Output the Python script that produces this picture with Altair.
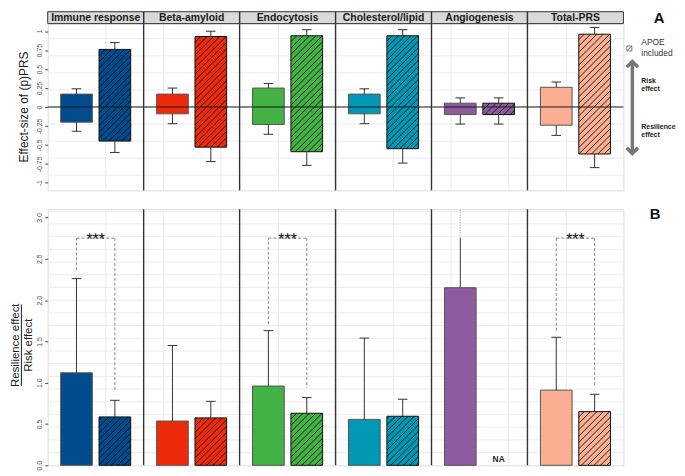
import math
import altair as alt
import pandas as pd

# ---------------- data ----------------
categories = ["Immune response", "Beta-amyloid", "Endocytosis",
              "Cholesterol/lipid", "Angiogenesis", "Total-PRS"]
colors = ["#024B8C", "#EE2A0C", "#43B244", "#0098B4", "#8E5B9E", "#FBAE91"]

# Panel A: effect sizes (floating bars: low..high) with error bars
prs_high = [0.17, 0.17, 0.25, 0.17, 0.05, 0.26]
prs_low = [-0.20, -0.09, -0.23, -0.09, -0.10, -0.24]
prs_err_high = [0.24, 0.25, 0.31, 0.24, 0.12, 0.33]
prs_err_low = [-0.32, -0.22, -0.36, -0.22, -0.225, -0.375]
apoe_high = [0.76, 0.93, 0.94, 0.94, 0.05, 0.96]
apoe_low = [-0.45, -0.53, -0.59, -0.55, -0.10, -0.62]
apoe_err_high = [0.85, 1.00, 1.02, 1.02, 0.12, 1.05]
apoe_err_low = [-0.60, -0.72, -0.77, -0.74, -0.225, -0.80]

# Panel B: resilience / risk ratio
ratio = [1.12, 0.536, 0.96, 0.556, 2.15, 0.91]
ratio_err = [2.26, 1.45, 1.63, 1.54, 2.75, 1.55]
ratio_err_capped = [True, True, True, True, False, True]
ratio_err_beyond = [None, None, None, None, 3.1, None]
apoe_ratio = [0.586, 0.574, 0.63, 0.594, None, 0.65]
apoe_ratio_err = [0.787, 0.775, 0.82, 0.80, None, 0.86]
sig_labels = ["***", None, "***", None, None, "***"]
bracket_top = 2.75
bracket_left_from = [2.36, None, 1.71, None, None, 1.63]
bracket_right_to = [0.90, None, 0.94, None, None, 0.96]

top_ticks = [1, 0.75, 0.5, 0.25, 0, -0.25, -0.5, -0.75, -1]
bottom_ticks = [0, 0.5, 1.0, 1.5, 2.0, 2.5, 3.0]

# ---------------- layout constants ----------------
W = 580
H_TOP = 168
H_BOT = 258
DOM_TOP = [-1.1, 1.1]
DOM_BOT = [0, 3.1]
SX = W / 6
SY_TOP = H_TOP / (DOM_TOP[1] - DOM_TOP[0])
SY_BOT = H_BOT / (DOM_BOT[1] - DOM_BOT[0])
BAR_W = 0.33
OFF_S = 0.30
OFF_A = 0.70
CAP = 0.05
FONT = "Liberation Sans"

XS = alt.Scale(domain=[0, 6], nice=False, zero=False)
YT = alt.Scale(domain=DOM_TOP, nice=False, zero=False)
YB = alt.Scale(domain=DOM_BOT, nice=False, zero=False)
cscale = alt.Scale(domain=categories, range=colors)

x_axis = alt.Axis(values=[round(0.6 * k, 2) for k in range(1, 10)], labels=False,
                  ticks=False, domain=False, grid=True, gridColor="#ebebeb",
                  gridWidth=1, title=None)
top_axis = alt.Axis(values=top_ticks, labelExpr="'' + datum.value", labelAngle=270,
                    labelAlign="center", labelBaseline="bottom", labelFontSize=7,
                    labelColor="#4d4d4d", tickColor="#4d4d4d", tickSize=3,
                    labelPadding=2, grid=False, domain=False, title=None)
bot_axis = alt.Axis(values=bottom_ticks, format=".1f", labelAngle=270,
                    labelAlign="center", labelBaseline="bottom", labelFontSize=7,
                    labelColor="#4d4d4d", tickColor="#4d4d4d", tickSize=3,
                    labelPadding=2, grid=False, domain=False, title=None)


def X(f):
    return alt.X(f"{f}:Q", scale=XS, axis=x_axis)


def hatch_segments(x0, x1, y0, y1, sy, step=6.4):
    X0, X1, Y0, Y1 = x0 * SX, x1 * SX, y0 * sy, y1 * sy
    segs = []
    c = math.floor((Y0 - X1) / step) * step
    while c <= Y1 - X0:
        xa = max(X0, Y0 - c)
        xb = min(X1, Y1 - c)
        if xb - xa > 0.4:
            segs.append(dict(x=xa / SX, y=(xa + c) / sy, x2=xb / SX, y2=(xb + c) / sy))
        c += step
    return segs


# ---------------- build tables ----------------
def bar_rows(lows, highs, errl, errh, sy, with_low_err):
    bars, hatch, err, caps = [], [], [], []
    for i, cat in enumerate(categories):
        for kind, off in (("solid", OFF_S), ("apoe", OFF_A)):
            lo, hi = lows[kind][i], highs[kind][i]
            if hi is None:
                continue
            cx = i + off
            x0, x1 = cx - BAR_W / 2, cx + BAR_W / 2
            bars.append(dict(cat=cat, kind=kind, x=x0, x2=x1, y=lo, y2=hi))
            if kind == "apoe":
                hatch += hatch_segments(x0, x1, lo, hi, sy)
            eh = errh[kind][i]
            if eh is not None:
                err.append(dict(x=cx, y=hi, y2=eh))
                if errh.get(kind + "_cap", [True] * 6)[i]:
                    caps.append(dict(x=cx - CAP, x2=cx + CAP, y=eh))
            if with_low_err:
                el = errl[kind][i]
                err.append(dict(x=cx, y=lo, y2=el))
                caps.append(dict(x=cx - CAP, x2=cx + CAP, y=el))
    return (pd.DataFrame(bars), pd.DataFrame(hatch), pd.DataFrame(err),
            pd.DataFrame(caps))


topb, toph, tope, topc = bar_rows(
    {"solid": prs_low, "apoe": apoe_low}, {"solid": prs_high, "apoe": apoe_high},
    {"solid": prs_err_low, "apoe": apoe_err_low},
    {"solid": prs_err_high, "apoe": apoe_err_high}, SY_TOP, True)

botb, both, bote, botc = bar_rows(
    {"solid": [0] * 6, "apoe": [0] * 6}, {"solid": ratio, "apoe": apoe_ratio},
    None,
    {"solid": ratio_err, "apoe": apoe_ratio_err, "solid_cap": ratio_err_capped},
    SY_BOT, False)

dotted = pd.DataFrame([dict(x=i + OFF_S, y=ratio_err[i], y2=b)
                       for i, b in enumerate(ratio_err_beyond) if b is not None])

brackets, stars = [], []
for i, s in enumerate(sig_labels):
    if s is None:
        continue
    cs, ca = i + OFF_S, i + OFF_A
    brackets.append(dict(x=cs, x2=cs, y=bracket_left_from[i], y2=bracket_top))
    brackets.append(dict(x=cs, x2=ca, y=bracket_top, y2=bracket_top))
    brackets.append(dict(x=ca, x2=ca, y=bracket_top, y2=bracket_right_to[i]))
    stars.append(dict(x=i + 0.5, y=bracket_top, t=s))
brackets = pd.DataFrame(brackets)
stars = pd.DataFrame(stars)
na_df = pd.DataFrame([dict(x=i + OFF_A, y=0, t="NA")
                      for i, v in enumerate(apoe_ratio) if v is None])

strips = pd.DataFrame(dict(cat=categories, x=list(range(6)),
                           x2=list(range(1, 7)), xc=[i + 0.5 for i in range(6)]))
seps = pd.DataFrame(dict(x=list(range(1, 6))))
grid_top = pd.DataFrame(dict(y=[0.225 * k for k in range(-4, 5)]))
grid_bot = pd.DataFrame(dict(y=[0.1538 * k for k in range(1, 21)]))


def one(t):
    return pd.DataFrame({"t": [t]})


# ---------------- layers ----------------
def panel_layers(bars, hatch, err, caps, yscale, yaxis, grid):
    def Y(f):
        return alt.Y(f"{f}:Q", scale=yscale, axis=yaxis)
    L = []
    L.append(alt.Chart(grid).mark_rule(color="#ececec", strokeWidth=1).encode(
        y=Y("y"), x=alt.value(0), x2=alt.value("width")))
    L.append(alt.Chart(bars).mark_rect(strokeWidth=0).encode(
        x=X("x"), x2="x2:Q", y=Y("y"), y2="y2:Q",
        fill=alt.Fill("cat:N", scale=cscale, legend=None)))
    L.append(alt.Chart(hatch).mark_rule(color="#111111", strokeWidth=0.9).encode(
        x=X("x"), x2="x2:Q", y=Y("y"), y2="y2:Q"))
    L.append(alt.Chart(bars).mark_rect(fillOpacity=0, strokeWidth=1).encode(
        x=X("x"), x2="x2:Q", y=Y("y"), y2="y2:Q",
        stroke=alt.Stroke("kind:N", scale=alt.Scale(domain=["solid", "apoe"],
                                                    range=["#555555", "#111111"]),
                          legend=None)))
    L.append(alt.Chart(err).mark_rule(color="#333333", strokeWidth=1).encode(
        x=X("x"), y=Y("y"), y2="y2:Q"))
    L.append(alt.Chart(caps).mark_rule(color="#333333", strokeWidth=1).encode(
        x=X("x"), x2="x2:Q", y=Y("y")))
    return L, Y


spacer = alt.Chart(one("")).mark_rule(color="white", strokeWidth=1).encode(
    x=alt.value(-39), y=alt.value(60), y2=alt.value(61))

# ---- top panel (A)
tl, YTf = panel_layers(topb, toph, tope, topc, YT, top_axis, grid_top)
tl.append(alt.Chart(pd.DataFrame({"y": [0]})).mark_rule(color="#1a1a1a", strokeWidth=1).encode(
    y=YTf("y"), x=alt.value(0), x2=alt.value("width")))
tl.append(alt.Chart(strips).mark_rect(fill="#d9d9d9", stroke="#333333", strokeWidth=1).encode(
    x=X("x"), x2="x2:Q", y=alt.value(-12), y2=alt.value(0)))
tl.append(alt.Chart(strips).mark_text(font=FONT, fontSize=10.5, fontWeight="bold",
                                      color="#1a1a1a", baseline="middle").encode(
    x=X("xc"), y=alt.value(-5.5), text="cat:N"))
tl.append(alt.Chart(seps).mark_rule(color="#333333", strokeWidth=1.4).encode(
    x=X("x"), y=alt.value(-12), y2=alt.value("height")))
tl.append(alt.Chart(one("Effect-size of (p)PRS")).mark_text(
    font=FONT, fontSize=12, angle=270, color="#1a1a1a", baseline="alphabetic").encode(
    text="t:N", x=alt.value(-20), y=alt.value(H_TOP / 2)))
tl.append(alt.Chart(one("A")).mark_text(font=FONT, fontSize=15, fontWeight="bold",
                                        color="#111111", baseline="middle").encode(
    text="t:N", x=alt.value(W + 36), y=alt.value(-6)))
tl.append(alt.Chart(one("")).mark_rect(fill="white", stroke="#555555", strokeWidth=0.8).encode(
    x=alt.value(W + 3.5), x2=alt.value(W + 8.5), y=alt.value(22.5), y2=alt.value(27.5)))
tl.append(alt.Chart(one("")).mark_rule(color="#555555", strokeWidth=0.8).encode(
    x=alt.value(W + 4), x2=alt.value(W + 8), y=alt.value(27), y2=alt.value(23)))
tl.append(alt.Chart(one("APOE\nincluded")).mark_text(
    font=FONT, fontSize=8.5, color="#333333", align="left", baseline="middle",
    lineBreak="\n", lineHeight=11).encode(
    text="t:N", x=alt.value(W + 18), y=alt.value(19)))
tl.append(alt.Chart(one("")).mark_rule(color="#777777", strokeWidth=3.5).encode(
    x=alt.value(W + 9), y=alt.value(38), y2=alt.value(131)))
tl.append(alt.Chart(one("")).mark_point(
    shape="M-1,0.5L0,-0.5L1,0.5", filled=False, size=130, color="#777777",
    strokeWidth=3.5, opacity=1).encode(x=alt.value(W + 9), y=alt.value(41)))
tl.append(alt.Chart(one("")).mark_point(
    shape="M-1,-0.5L0,0.5L1,-0.5", filled=False, size=130, color="#777777",
    strokeWidth=3.5, opacity=1).encode(x=alt.value(W + 9), y=alt.value(128)))
tl.append(alt.Chart(one("Risk\neffect")).mark_text(
    font=FONT, fontSize=7, fontWeight="bold", color="#222222", align="left",
    baseline="middle", lineBreak="\n", lineHeight=8).encode(
    text="t:N", x=alt.value(W + 18), y=alt.value(58)))
tl.append(alt.Chart(one("Resilience\neffect")).mark_text(
    font=FONT, fontSize=7, fontWeight="bold", color="#222222", align="left",
    baseline="middle", lineBreak="\n", lineHeight=8).encode(
    text="t:N", x=alt.value(W + 18), y=alt.value(104)))
tl.append(spacer)
top = alt.layer(*tl).properties(width=W, height=H_TOP)

# ---- bottom panel (B)
bl, YBf = panel_layers(botb, both, bote, botc, YB, bot_axis, grid_bot)
bl.append(alt.Chart(dotted).mark_rule(color="#999999", strokeWidth=1, strokeDash=[1, 1.5]).encode(
    x=X("x"), y=YBf("y"), y2="y2:Q"))
bl.append(alt.Chart(brackets).mark_rule(color="#888888", strokeWidth=1, strokeDash=[3, 2]).encode(
    x=X("x"), x2="x2:Q", y=YBf("y"), y2="y2:Q"))
bl.append(alt.Chart(stars).mark_text(font=FONT, fontSize=16, color="#111111",
                                     baseline="alphabetic", dy=7).encode(
    x=X("x"), y=YBf("y"), text="t:N"))
bl.append(alt.Chart(na_df).mark_text(font=FONT, fontSize=8.5, fontWeight="bold",
                                     color="#222222", baseline="alphabetic", dy=-3).encode(
    x=X("x"), y=YBf("y"), text="t:N"))
bl.append(alt.Chart(seps).mark_rule(color="#333333", strokeWidth=1.4).encode(
    x=X("x"), y=alt.value(0), y2=alt.value("height")))
bl.append(alt.Chart(one("Resilience effect")).mark_text(
    font=FONT, fontSize=11.5, angle=270, color="#1a1a1a", baseline="alphabetic").encode(
    text="t:N", x=alt.value(-29), y=alt.value(137)))
bl.append(alt.Chart(one("")).mark_rule(color="#1a1a1a", strokeWidth=1).encode(
    x=alt.value(-26.5), y=alt.value(96), y2=alt.value(178)))
bl.append(alt.Chart(one("Risk effect")).mark_text(
    font=FONT, fontSize=11.5, angle=270, color="#1a1a1a", baseline="alphabetic").encode(
    text="t:N", x=alt.value(-15.5), y=alt.value(137)))
bl.append(alt.Chart(one("B")).mark_text(font=FONT, fontSize=15, fontWeight="bold",
                                        color="#111111", baseline="middle").encode(
    text="t:N", x=alt.value(W + 32), y=alt.value(5)))
bl.append(spacer)
bottom = alt.layer(*bl).properties(width=W, height=H_BOT)

chart = alt.vconcat(top, bottom, spacing=14).properties(padding=0).configure_view(
    stroke="#8c8c8c", strokeWidth=1).configure(font=FONT)

chart.save("out.html", embed_options={"renderer": "svg", "actions": False})
